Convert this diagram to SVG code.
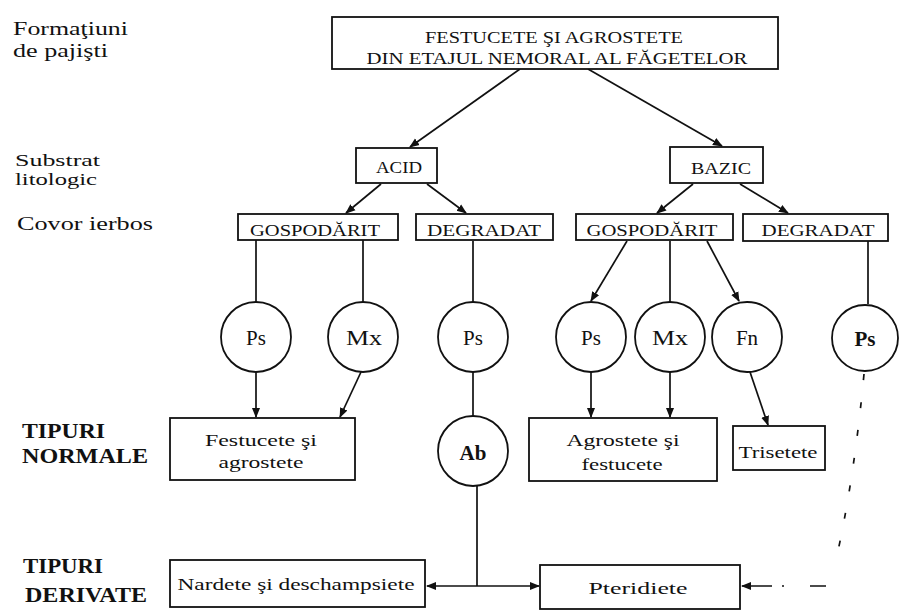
<svg xmlns="http://www.w3.org/2000/svg" width="901" height="611" viewBox="0 0 901 611">
<defs>
<style>
.lbl{font-family:"Liberation Serif","DejaVu Serif",serif;fill:#111}
.hd{font-size:19px}
.hs{font-size:17px}
.hb{font-size:21px;font-weight:bold}
.bx{font-size:17px;text-anchor:middle}
.ct{font-size:21px;text-anchor:middle}
.box{fill:#fff;stroke:#111;stroke-width:1.8}
.cir{fill:#fff;stroke:#111;stroke-width:1.8}
.con{fill:none;stroke:#111;stroke-width:1.7}
</style>
<marker id="ah" markerUnits="userSpaceOnUse" markerWidth="10" markerHeight="10" viewBox="0 0 10 10" refX="9" refY="5" orient="auto">
<path d="M0,1 L10,5 L0,9 Z" fill="#111"/>
</marker>
</defs>
<rect width="901" height="611" fill="#fff"/>

<g id="labels">
<text class="lbl hd" x="13" y="35" textLength="115" lengthAdjust="spacingAndGlyphs">Formaţiuni</text>
<text class="lbl hd" x="13" y="57" textLength="95" lengthAdjust="spacingAndGlyphs">de pajişti</text>
<text class="lbl hs" x="15" y="166" textLength="85" lengthAdjust="spacingAndGlyphs">Substrat</text>
<text class="lbl hs" x="15" y="185" textLength="82" lengthAdjust="spacingAndGlyphs">litologic</text>
<text class="lbl hd" x="17" y="230" textLength="136" lengthAdjust="spacingAndGlyphs">Covor ierbos</text>
<text class="lbl hb" x="22" y="438" textLength="83" lengthAdjust="spacingAndGlyphs">TIPURI</text>
<text class="lbl hb" x="22" y="463" textLength="126" lengthAdjust="spacingAndGlyphs">NORMALE</text>
<text class="lbl hb" x="23" y="573" textLength="80" lengthAdjust="spacingAndGlyphs">TIPURI</text>
<text class="lbl hb" x="25" y="602" textLength="122" lengthAdjust="spacingAndGlyphs">DERIVATE</text>
</g>

<g id="connectors">
<line class="con" x1="520" y1="69" x2="410" y2="147" marker-end="url(#ah)"/>
<line class="con" x1="588" y1="69" x2="722" y2="146" marker-end="url(#ah)"/>
<line class="con" x1="381" y1="184" x2="346" y2="213" marker-end="url(#ah)"/>
<line class="con" x1="427" y1="184" x2="466" y2="213" marker-end="url(#ah)"/>
<line class="con" x1="693" y1="184" x2="657" y2="213" marker-end="url(#ah)"/>
<line class="con" x1="740" y1="184" x2="788" y2="213" marker-end="url(#ah)"/>
<line class="con" x1="256" y1="240" x2="256" y2="302"/>
<line class="con" x1="363" y1="240" x2="363" y2="302"/>
<line class="con" x1="473" y1="241" x2="473" y2="302"/>
<line class="con" x1="627" y1="241" x2="591" y2="301" marker-end="url(#ah)"/>
<line class="con" x1="670" y1="241" x2="670" y2="302"/>
<line class="con" x1="707" y1="241" x2="739" y2="301" marker-end="url(#ah)"/>
<line class="con" x1="868" y1="241" x2="868" y2="304"/>
<line class="con" x1="256" y1="372" x2="256" y2="417" marker-end="url(#ah)"/>
<line class="con" x1="361" y1="372" x2="340" y2="417" marker-end="url(#ah)"/>
<line class="con" x1="473" y1="372" x2="473" y2="417"/>
<line class="con" x1="591" y1="372" x2="591" y2="417" marker-end="url(#ah)"/>
<line class="con" x1="670" y1="372" x2="670" y2="417" marker-end="url(#ah)"/>
<line class="con" x1="750" y1="372" x2="768" y2="425" marker-end="url(#ah)"/>
<line class="con" x1="477" y1="486" x2="477" y2="586"/>
<line class="con" x1="477" y1="586" x2="427" y2="586" marker-end="url(#ah)"/>
<line class="con" x1="477" y1="586" x2="539" y2="586" marker-end="url(#ah)"/>
<path class="con" d="M864,374 Q854,480 836,560" stroke-dasharray="6,22"/>
<path class="con" d="M826,586 L742,586" stroke-dasharray="16,26,2,10,40" marker-end="url(#ah)"/>
</g>

<g id="n-top">
<rect class="box" x="332" y="17" width="446" height="52"/>
<text class="lbl bx" x="554" y="43" font-size="19" textLength="258" lengthAdjust="spacingAndGlyphs">FESTUCETE ŞI AGROSTETE</text>
<text class="lbl bx" x="557" y="64" font-size="19" textLength="381" lengthAdjust="spacingAndGlyphs">DIN ETAJUL NEMORAL AL FĂGETELOR</text>
</g>
<g id="n-acid">
<rect class="box" x="356" y="148" width="81" height="35"/>
<text class="lbl bx" x="399" y="173" textLength="46" lengthAdjust="spacingAndGlyphs">ACID</text>
</g>
<g id="n-bazic">
<rect class="box" x="670" y="147" width="93" height="36"/>
<text class="lbl bx" x="721" y="174" textLength="60" lengthAdjust="spacingAndGlyphs">BAZIC</text>
</g>
<g id="n-gosp1">
<rect class="box" x="238" y="214" width="160" height="26"/>
<text class="lbl bx" x="315" y="236" textLength="130" lengthAdjust="spacingAndGlyphs">GOSPODĂRIT</text>
</g>
<g id="n-degr1">
<rect class="box" x="416" y="214" width="137" height="26"/>
<text class="lbl bx" x="484" y="236" textLength="114" lengthAdjust="spacingAndGlyphs">DEGRADAT</text>
</g>
<g id="n-gosp2">
<rect class="box" x="576" y="214" width="157" height="26"/>
<text class="lbl bx" x="652" y="236" textLength="131" lengthAdjust="spacingAndGlyphs">GOSPODĂRIT</text>
</g>
<g id="n-degr2">
<rect class="box" x="743" y="214" width="145" height="27"/>
<text class="lbl bx" x="818" y="236" textLength="113" lengthAdjust="spacingAndGlyphs">DEGRADAT</text>
</g>

<g id="c-ps1"><circle class="cir" cx="256" cy="337" r="35"/><text class="lbl ct" x="256" y="345">Ps</text></g>
<g id="c-mx1"><circle class="cir" cx="363" cy="337" r="35"/><text class="lbl ct" x="364" y="345" textLength="36" lengthAdjust="spacingAndGlyphs">Mx</text></g>
<g id="c-ps2"><circle class="cir" cx="473" cy="337" r="35"/><text class="lbl ct" x="473" y="345">Ps</text></g>
<g id="c-ps3"><circle class="cir" cx="591" cy="337" r="35"/><text class="lbl ct" x="591" y="345">Ps</text></g>
<g id="c-mx2"><circle class="cir" cx="670" cy="337" r="35"/><text class="lbl ct" x="670" y="345" textLength="36" lengthAdjust="spacingAndGlyphs">Mx</text></g>
<g id="c-fn"><circle class="cir" cx="747" cy="337" r="35"/><text class="lbl ct" x="747" y="345">Fn</text></g>
<g id="c-ps4"><circle class="cir" cx="865" cy="338" r="33"/><text class="lbl ct" x="865" y="346" font-weight="bold">Ps</text></g>
<g id="c-ab"><circle class="cir" cx="473" cy="451" r="35"/><text class="lbl ct" x="473" y="460" font-weight="bold">Ab</text></g>

<g id="n-festucete">
<rect class="box" x="170" y="418" width="185" height="62"/>
<text class="lbl bx" x="261" y="446" textLength="112" lengthAdjust="spacingAndGlyphs">Festucete şi</text>
<text class="lbl bx" x="261" y="468" textLength="85" lengthAdjust="spacingAndGlyphs">agrostete</text>
</g>
<g id="n-agrostete">
<rect class="box" x="529" y="418" width="188" height="63"/>
<text class="lbl bx" x="623" y="446" textLength="113" lengthAdjust="spacingAndGlyphs">Agrostete şi</text>
<text class="lbl bx" x="622" y="470" textLength="81" lengthAdjust="spacingAndGlyphs">festucete</text>
</g>
<g id="n-trisetete">
<rect class="box" x="733" y="426" width="92" height="44"/>
<text class="lbl bx" x="778" y="458" font-size="16" textLength="79" lengthAdjust="spacingAndGlyphs">Trisetete</text>
</g>
<g id="n-nardete">
<rect class="box" x="170" y="560" width="255" height="47"/>
<text class="lbl bx" x="296" y="590" textLength="237" lengthAdjust="spacingAndGlyphs">Nardete şi deschampsiete</text>
</g>
<g id="n-pteridiete">
<rect class="box" x="540" y="565" width="200" height="44"/>
<text class="lbl bx" x="638" y="594" font-size="19" textLength="99" lengthAdjust="spacingAndGlyphs">Pteridiete</text>
</g>
</svg>
